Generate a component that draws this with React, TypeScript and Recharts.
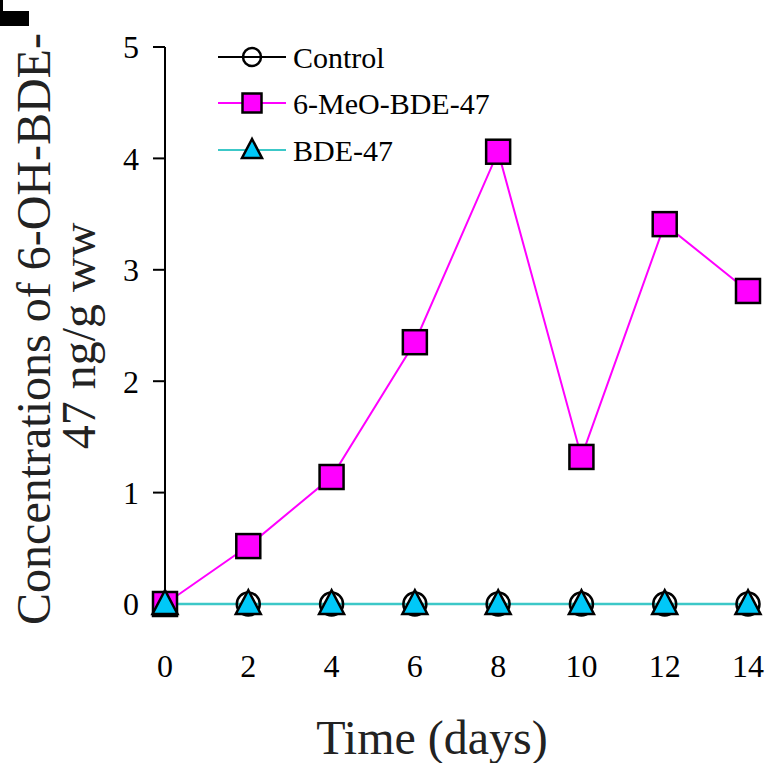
import { LineChart, Line, XAxis, YAxis } from 'recharts'

const days = [0, 2, 4, 6, 8, 10, 12, 14]
const controlValues = [0, 0, 0, 0, 0, 0, 0, 0]
const meoValues = [0, 0.52, 1.14, 2.35, 4.06, 1.32, 3.41, 2.81]
const bdeValues = [0, 0, 0, 0, 0, 0, 0, 0]
const yTicks = [0, 1, 2, 3, 4, 5]
const seriesNames = ['Control', '6-MeO-BDE-47', 'BDE-47']

const data = days.map((d, i) => ({
  day: d,
  control: controlValues[i],
  meo: meoValues[i],
  bde: bdeValues[i],
}))

const FONT = '"Liberation Serif", "Times New Roman", serif'
const MAGENTA = '#ff00ff'
const TEAL = '#3cc8c8'
const CYAN = '#00c8f8'

function Circle({ cx, cy, r = 11.5 }: { cx: number; cy: number; r?: number }) {
  return <circle cx={cx} cy={cy} r={r} fill="none" stroke="#000" strokeWidth={2.5} />
}

function Square({ cx, cy, s = 24 }: { cx: number; cy: number; s?: number }) {
  return (
    <rect x={cx - s / 2} y={cy - s / 2} width={s} height={s} fill={MAGENTA} stroke="#000" strokeWidth={2.5} />
  )
}

function Triangle({ cx, cy, w = 25 }: { cx: number; cy: number; w?: number }) {
  const h = w * 0.95
  const top = cy - h * 0.58
  const bot = cy + h * 0.42
  return (
    <polygon
      points={`${cx},${top} ${cx - w / 2},${bot} ${cx + w / 2},${bot}`}
      fill={CYAN}
      stroke="#000"
      strokeWidth={2.5}
      strokeLinejoin="miter"
    />
  )
}

// two-line rotated y title, like the original figure
function YLabel() {
  return (
    <g>
      <text
        x={50}
        y={329}
        transform="rotate(-90, 50, 329)"
        textAnchor="middle"
        fontFamily={FONT}
        fontSize={48}
        fill="#222"
      >
        Concentrations of 6-OH-BDE-
      </text>
      <text
        x={95}
        y={336}
        transform="rotate(-90, 95, 336)"
        textAnchor="middle"
        fontFamily={FONT}
        fontSize={48}
        fill="#222"
      >
        47 ng/g ww
      </text>
    </g>
  )
}

function XLabel() {
  return (
    <text x={432} y={754} textAnchor="middle" fontFamily={FONT} fontSize={48} fill="#222">
      Time (days)
    </text>
  )
}

function ChartLegend() {
  const rows = [
    { y: 57, color: '#000', mark: (cx: number, cy: number) => <Circle cx={cx} cy={cy} r={9} /> },
    { y: 103, color: MAGENTA, mark: (cx: number, cy: number) => <Square cx={cx} cy={cy} s={19} /> },
    { y: 150, color: TEAL, mark: (cx: number, cy: number) => <Triangle cx={cx} cy={cy} w={20} /> },
  ]
  return (
    <svg width={771} height={763} style={{ position: 'absolute', left: 0, top: 0, pointerEvents: 'none' }}>
      {rows.map((r, i) => (
        <g key={seriesNames[i]}>
          <line x1={218} x2={286} y1={r.y} y2={r.y} stroke={r.color} strokeWidth={2} />
          {r.mark(252, r.y)}
          <text x={293} y={r.y + 11} fontFamily={FONT} fontSize={30} fill="#000">
            {seriesNames[i]}
          </text>
        </g>
      ))}
    </svg>
  )
}

export default function App() {
  return (
    <div style={{ position: 'absolute', left: 0, top: 0, width: 771, height: 763, background: '#fff' }}>
      <LineChart width={771} height={763} data={data} margin={{ top: 47, right: 23, left: 0, bottom: 0 }}>
        <XAxis
          dataKey="day"
          type="number"
          domain={[0, 14]}
          ticks={days}
          height={159}
          axisLine={false}
          tickLine={false}
          tickSize={8}
          tickMargin={42}
          tick={{ fontSize: 32, fontFamily: FONT, fill: '#000' }}
          label={{ content: () => <XLabel /> }}
        />
        <YAxis
          width={165}
          domain={[0, 5]}
          ticks={yTicks}
          stroke="#000"
          strokeWidth={2}
          tickSize={12}
          tickMargin={14}
          tick={{ fontSize: 32, fontFamily: FONT, fill: '#000' }}
          label={{ content: () => <YLabel /> }}
        />
        <Line
          dataKey="control"
          name={seriesNames[0]}
          stroke="#000"
          strokeWidth={2}
          isAnimationActive={false}
          dot={(p: any) => <Circle key={`c${p.index}`} cx={p.cx} cy={p.cy} />}
        />
        <Line
          dataKey="meo"
          name={seriesNames[1]}
          stroke={MAGENTA}
          strokeWidth={2}
          isAnimationActive={false}
          dot={(p: any) => <Square key={`s${p.index}`} cx={p.cx} cy={p.cy} />}
        />
        <Line
          dataKey="bde"
          name={seriesNames[2]}
          stroke={TEAL}
          strokeWidth={2.5}
          isAnimationActive={false}
          dot={(p: any) => <Triangle key={`t${p.index}`} cx={p.cx} cy={p.cy} />}
        />
      </LineChart>
      <ChartLegend />
      <div style={{ position: 'absolute', left: 0, top: 11, width: 29, height: 15, background: '#000' }} />
      <div style={{ position: 'absolute', left: 0, top: 0, width: 3, height: 11, background: '#000' }} />
    </div>
  )
}
